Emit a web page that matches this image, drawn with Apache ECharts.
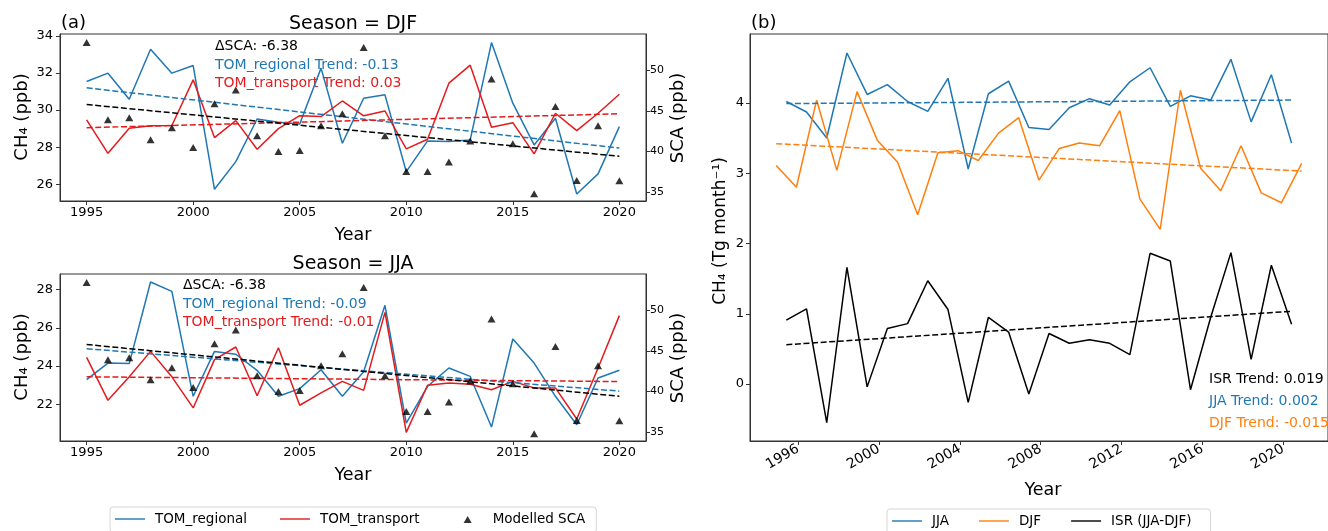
<!DOCTYPE html>
<html>
<head>
<meta charset="utf-8">
<script src="https://cdn.jsdelivr.net/npm/echarts@6/dist/echarts.min.js"></script>
<style>
    html, body { margin: 0; padding: 0; background: #fff; }
    #grafico { width: 1328px; height: 531px; }
</style>
</head>
<body>
<div id="grafico"></div>
<script>
// Años de los paneles (a)
const anios = [1995, 1996, 1997, 1998, 1999, 2000, 2001, 2002, 2003, 2004, 2005, 2006, 2007,
               2008, 2009, 2010, 2011, 2012, 2013, 2014, 2015, 2016, 2017, 2018, 2019, 2020];

// Season = DJF (ppb)
const djfRegional = [31.54, 31.99, 30.58, 33.28, 31.99, 32.40, 25.73, 27.22, 29.52, 29.35, 29.25, 32.26, 28.21,
                     30.64, 30.82, 26.68, 28.34, 28.30, 28.39, 33.64, 30.37, 28.12, 29.56, 25.48, 26.56, 29.11];
const djfTransport = [29.47, 27.67, 29.02, 29.16, 29.17, 31.63, 28.52, 29.43, 27.89, 29.00, 29.70, 29.65, 30.49,
                      29.69, 29.95, 27.91, 28.43, 31.45, 32.42, 29.08, 29.32, 27.64, 29.83, 28.89, 29.83, 30.85];

// Season = JJA (ppb)
const jjaRegional = [23.29, 24.16, 24.13, 28.40, 27.91, 22.42, 24.77, 24.62, 23.78, 22.42, 22.82, 23.81, 22.42,
                     23.70, 27.18, 21.02, 22.94, 23.90, 23.46, 20.81, 25.42, 24.16, 22.42, 20.93, 23.38, 23.78];
const jjaTransport = [24.46, 22.21, 23.44, 24.77, 23.44, 21.81, 24.34, 25.00, 22.45, 24.96, 21.95, 22.60, 23.20,
                      22.73, 26.81, 20.53, 23.00, 23.11, 23.05, 22.76, 23.20, 22.86, 22.86, 21.23, 23.90, 26.64];

// SCA modelado (ppb), eje derecho, igual en ambos paneles
const scaModelado = [53.45, 43.92, 44.17, 41.46, 42.94, 40.51, 45.90, 47.58, 41.95, 40.01, 40.14, 43.18, 44.66,
                     52.84, 41.95, 37.55, 37.55, 38.70, 41.29, 48.94, 40.96, 34.80, 45.56, 36.44, 43.18, 36.40];

// Extremos de las tendencias (1995 y 2020)
const aniosTendencia = [1995, 2020];
const tendDjfRegional = [31.20, 27.95];
const tendDjfTransport = [29.05, 29.80];
const tendJjaRegional = [24.91, 22.69];
const tendJjaTransport = [23.44, 23.19];
const tendSca = [45.80, 39.42];

// Panel (b): Tg month-1
const aniosJJA = [1995, 1996, 1997, 1998, 1999, 2000, 2001, 2002, 2003, 2004, 2005, 2006, 2007,
                  2008, 2009, 2010, 2011, 2012, 2013, 2014, 2015, 2016, 2017, 2018, 2019, 2020];
const aniosDJF = [1994, 1995, 1996, 1997, 1998, 1999, 2000, 2001, 2002, 2003, 2004, 2005, 2006, 2007,
                  2008, 2009, 2010, 2011, 2012, 2013, 2014, 2015, 2016, 2017, 2018, 2019, 2020];
const valoresJJA = [4.02, 3.87, 3.50, 4.71, 4.12, 4.26, 4.02, 3.88, 4.35, 3.06, 4.13, 4.31, 3.65,
                    3.62, 3.93, 4.06, 3.97, 4.30, 4.50, 3.95, 4.10, 4.04, 4.62, 3.73, 4.40, 3.43];
const valoresDJF = [3.11, 2.80, 4.04, 3.04, 4.16, 3.47, 3.16, 2.41, 3.29, 3.32, 3.18, 3.57, 3.79, 2.90,
                    3.35, 3.43, 3.39, 3.89, 2.63, 2.20, 4.18, 3.07, 2.75, 3.39, 2.72, 2.58, 3.14];
const valoresISR = [0.91, 1.07, -0.55, 1.66, -0.04, 0.79, 0.86, 1.47, 1.06, -0.26, 0.95, 0.74, -0.14,
                    0.72, 0.58, 0.63, 0.58, 0.42, 1.86, 1.75, -0.08, 0.95, 1.87, 0.35, 1.69, 0.85];
const tendJJA = [3.99, 4.04];
const tendDJF = [3.42, 3.03];
const tendISR = [0.56, 1.035];

// Etiquetas de los ejes
const ticksAnioA = [1995, 2000, 2005, 2010, 2015, 2020];
const ticksAnioB = [1996, 2000, 2004, 2008, 2012, 2016, 2020];
const ticksDJF = [26, 28, 30, 32, 34];
const ticksJJA = [22, 24, 26, 28];
const ticksSCA = [35, 40, 45, 50];
const ticksB = [0, 1, 2, 3, 4];

// Fechas: JJA en junio, DJF en diciembre
const MES_JUNIO = 5 / 12;
const MES_DICIEMBRE = 11 / 12;

const AZUL = '#1f77b4';
const ROJO = '#e41a1c';
const NARANJA = '#ff7f0e';
const FUENTE = 'DejaVu Sans';
const EJE = '#333';

// Iconos de leyenda (los M iniciales fijan la caja 30x8)
const ICONO_LINEA = 'path://M0,0 M30,8 M0,3.3 L30,3.3 L30,4.7 L0,4.7 Z';
const ICONO_TRIANGULO = 'path://M0,0 M30,8 M11,8 L15,1 L19,8 Z';

const zip = (xs, ys) => xs.map((x, i) => [x, ys[i]]);
const sinComas = v => String(v);

function ejeX(grid, min, max, ticks, extra) {
    return Object.assign({
        type: 'value', gridIndex: grid, min, max,
        axisLine: { show: true, onZero: false, lineStyle: { color: EJE, width: 1 } },
        axisTick: { show: true, inside: false, length: 4, customValues: ticks, lineStyle: { color: EJE } },
        axisLabel: { customValues: ticks, formatter: sinComas, color: '#000', fontFamily: FUENTE, fontSize: 13, margin: 5 },
        splitLine: { show: false }
    }, extra || {});
}

function ejeY(grid, min, max, ticks, posicion, tam, margen) {
    return {
        type: 'value', gridIndex: grid, min, max, position: posicion,
        axisLine: { show: true, onZero: false, lineStyle: { color: EJE, width: 1 } },
        axisTick: { show: true, inside: false, length: 4, customValues: ticks, lineStyle: { color: EJE } },
        axisLabel: { customValues: ticks, formatter: sinComas, color: '#000', fontFamily: FUENTE, fontSize: tam, margin: margen },
        splitLine: { show: false }
    };
}

function linea(nombre, x, y, datos, color, discontinua, z) {
    return {
        name: nombre, type: 'line', xAxisIndex: x, yAxisIndex: y, data: datos,
        showSymbol: false, symbol: 'none', silent: true, z: z || 2,
        lineStyle: { color, width: 1.5, type: discontinua ? [6, 2.6] : 'solid' },
        itemStyle: { color },
        emphasis: { disabled: true }
    };
}

function triangulos(x, y) {
    return {
        name: 'Modelled SCA', type: 'scatter', xAxisIndex: x, yAxisIndex: y,
        data: zip(anios, scaModelado), symbol: 'triangle', symbolSize: [8, 7],
        itemStyle: { color: '#000' }, silent: true, z: 4, emphasis: { disabled: true }
    };
}

function texto(x, y, t, tam, color, alinear, rot) {
    return {
        type: 'text', x, y, rotation: rot || 0, silent: true,
        style: { text: t, fontFamily: FUENTE, fontSize: tam, fill: color || '#000',
                 align: alinear || 'left', verticalAlign: 'middle' }
    };
}

function leyenda(izq, arriba, items, padding, hueco) {
    return {
        left: izq, top: arriba, orient: 'horizontal',
        data: items,
        itemWidth: 30, itemHeight: 8, itemGap: hueco,
        padding, borderColor: '#d6d6d6', borderWidth: 1, borderRadius: 3,
        textStyle: { color: '#000', fontFamily: FUENTE, fontSize: 13.5, padding: [0, 0, 0, 5] },
        selectedMode: false
    };
}

const grafico = echarts.init(document.getElementById('grafico'));

const xJJA = aniosJJA.map(a => a + MES_JUNIO);
const xDJF = aniosDJF.map(a => a + MES_DICIEMBRE);

const opciones = {
    animation: false,
    backgroundColor: '#fff',
    grid: [
        { left: 60, top: 34, width: 586, height: 167, show: true, borderColor: EJE, borderWidth: 1 },
        { left: 60, top: 274, width: 586, height: 167, show: true, borderColor: EJE, borderWidth: 1 },
        { left: 750, top: 34, width: 586, height: 407, show: true, borderColor: EJE, borderWidth: 1 }
    ],
    xAxis: [
        ejeX(0, 1993.75, 2021.25, ticksAnioA),
        ejeX(1, 1993.75, 2021.25, ticksAnioA),
        ejeX(2, 1993.62, 2022.22, ticksAnioB, {
            axisLabel: { customValues: ticksAnioB, formatter: sinComas, rotate: 30, color: '#000',
                         fontFamily: FUENTE, fontSize: 14, margin: 7 }
        })
    ],
    yAxis: [
        ejeY(0, 25.1, 34.1, ticksDJF, 'left', 13, 7),
        ejeY(0, 33.9, 54.5, ticksSCA, 'right', 11, 4),
        ejeY(1, 20.08, 28.82, ticksJJA, 'left', 13, 7),
        ejeY(1, 33.9, 54.5, ticksSCA, 'right', 11, 4),
        ejeY(2, -0.81, 4.98, ticksB, 'left', 13, 6)
    ],
    legend: [
        leyenda(110, 507, [
            { name: 'TOM_regional', icon: ICONO_LINEA },
            { name: 'TOM_transport', icon: ICONO_LINEA },
            { name: 'Modelled SCA', icon: ICONO_TRIANGULO }
        ], [5, 11, 6, 5], 33),
        leyenda(887, 509, [
            { name: 'JJA', icon: ICONO_LINEA },
            { name: 'DJF', icon: ICONO_LINEA },
            { name: 'ISR (JJA-DJF)', icon: ICONO_LINEA }
        ], [5, 19, 6, 5], 30)
    ],
    series: [
        // (a) DJF
        linea('TOM_regional', 0, 0, zip(anios, djfRegional), AZUL, false),
        linea('TOM_transport', 0, 0, zip(anios, djfTransport), ROJO, false),
        linea('djf-reg-tend', 0, 0, zip(aniosTendencia, tendDjfRegional), AZUL, true),
        linea('djf-tra-tend', 0, 0, zip(aniosTendencia, tendDjfTransport), ROJO, true),
        triangulos(0, 1),
        linea('djf-sca-tend', 0, 1, zip(aniosTendencia, tendSca), '#000', true),
        // (a) JJA
        linea('TOM_regional', 1, 2, zip(anios, jjaRegional), AZUL, false),
        linea('TOM_transport', 1, 2, zip(anios, jjaTransport), ROJO, false),
        linea('jja-reg-tend', 1, 2, zip(aniosTendencia, tendJjaRegional), AZUL, true),
        linea('jja-tra-tend', 1, 2, zip(aniosTendencia, tendJjaTransport), ROJO, true),
        triangulos(1, 3),
        linea('jja-sca-tend', 1, 3, zip(aniosTendencia, tendSca), '#000', true),
        // (b)
        linea('JJA', 2, 4, zip(xJJA, valoresJJA), AZUL, false),
        linea('DJF', 2, 4, zip(xDJF, valoresDJF), NARANJA, false),
        linea('ISR (JJA-DJF)', 2, 4, zip(xJJA, valoresISR), '#000', false),
        linea('jja-tend', 2, 4, [[xJJA[0], tendJJA[0]], [xJJA[xJJA.length - 1], tendJJA[1]]], AZUL, true),
        linea('djf-tend', 2, 4, [[xDJF[0], tendDJF[0]], [xDJF[xDJF.length - 1], tendDJF[1]]], NARANJA, true),
        linea('isr-tend', 2, 4, [[xJJA[0], tendISR[0]], [xJJA[xJJA.length - 1], tendISR[1]]], '#000', true)
    ],
    graphic: [
        texto(61, 23, '(a)', 18),
        texto(353, 24, 'Season = DJF', 19, '#000', 'center'),
        texto(215, 46, 'ΔSCA: -6.38', 14),
        texto(215, 65, 'TOM_regional Trend: -0.13', 14, AZUL),
        texto(215, 83.5, 'TOM_transport Trend: 0.03', 14, ROJO),
        texto(353, 235, 'Year', 17.5, '#000', 'center'),
        texto(22, 117, 'CH₄ (ppb)', 18, '#000', 'center', Math.PI / 2),
        texto(678, 118, 'SCA (ppb)', 18, '#000', 'center', Math.PI / 2),

        texto(353, 264, 'Season = JJA', 19, '#000', 'center'),
        texto(183, 285, 'ΔSCA: -6.38', 14),
        texto(183, 304, 'TOM_regional Trend: -0.09', 14, AZUL),
        texto(183, 322.5, 'TOM_transport Trend: -0.01', 14, ROJO),
        texto(353, 475, 'Year', 17.5, '#000', 'center'),
        texto(22, 357, 'CH₄ (ppb)', 18, '#000', 'center', Math.PI / 2),
        texto(678, 358, 'SCA (ppb)', 18, '#000', 'center', Math.PI / 2),

        texto(751, 23, '(b)', 18),
        texto(1209, 379, 'ISR Trend: 0.019', 14),
        texto(1209, 401, 'JJA Trend: 0.002', 14, AZUL),
        texto(1209, 423, 'DJF Trend: -0.015', 14, NARANJA),
        texto(1043, 490, 'Year', 17.5, '#000', 'center'),
        texto(721, 231, 'CH₄ (Tg month⁻¹)', 17, '#000', 'center', Math.PI / 2)
    ]
};

grafico.setOption(opciones);
</script>
</body>
</html>
